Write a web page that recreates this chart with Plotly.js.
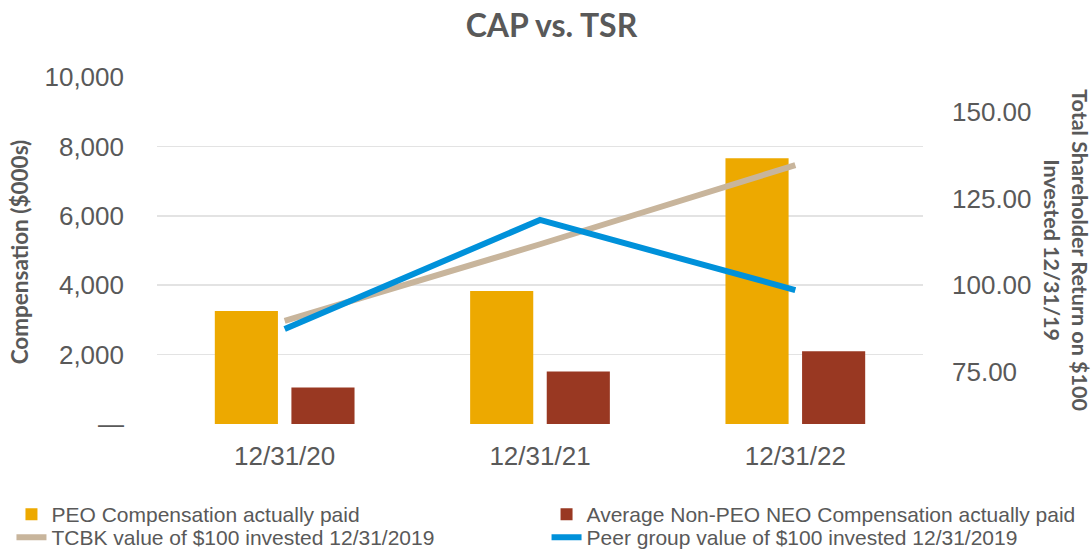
<!DOCTYPE html>
<html>
<head>
<meta charset="utf-8">
<script src="https://cdn.plot.ly/plotly-3.0.1.min.js"></script>
<style>
html,body{margin:0;padding:0;background:#fff;}
#chart{width:1092px;height:550px;}
</style>
</head>
<body>
<div id="chart"></div>
<script>
const categories = ['12/31/20', '12/31/21', '12/31/22'];
const peoCAP = [3255, 3835, 7660];
const nonPeoCAP = [1052, 1516, 2096];
const tcbkTSR = [89.7, 111.8, 134.6];
const peerTSR = [87.4, 118.8, 98.6];
const leftTickVals = [0, 2000, 4000, 6000, 8000, 10000];
const leftTickText = ['—', '2,000', '4,000', '6,000', '8,000', '10,000'];
const rightTickVals = [75, 100, 125, 150];

const grey = '#595959';
const tickFont = {family: 'Liberation Sans, Arial, sans-serif', size: 26, color: grey};
const legendFont = {family: 'Liberation Sans, Arial, sans-serif', size: 21, color: grey};

const traces = [
  {type: 'bar', name: 'PEO Compensation actually paid', x: categories, y: peoCAP,
   marker: {color: '#EDA900'}, legend: 'legend', hoverinfo: 'skip'},
  {type: 'bar', name: 'Average Non-PEO NEO Compensation actually paid', x: categories, y: nonPeoCAP,
   marker: {color: '#993822'}, legend: 'legend2', hoverinfo: 'skip'},
  {type: 'scatter', mode: 'lines', name: 'TCBK value of $100 invested 12/31/2019', x: categories, y: tcbkTSR,
   yaxis: 'y2', line: {color: '#C8B59C', width: 6}, legend: 'legend3', hoverinfo: 'skip'},
  {type: 'scatter', mode: 'lines', name: 'Peer group value of $100 invested 12/31/2019', x: categories, y: peerTSR,
   yaxis: 'y2', line: {color: '#0091DA', width: 6}, legend: 'legend4', hoverinfo: 'skip'}
];

function legendAt(x, y) {
  return {orientation: 'v', xref: 'container', yref: 'container', x: x, xanchor: 'left',
          y: y, yanchor: 'middle', font: legendFont, bgcolor: 'rgba(0,0,0,0)'};
}

const layout = {
  width: 1092, height: 550,
  margin: {l: 157, r: 169, t: 77, b: 126, autoexpand: false},
  paper_bgcolor: '#fff', plot_bgcolor: '#fff',
  title: {text: '<b>CAP vs. TSR</b>', x: 0.505, xanchor: 'center', y: 0.953, yanchor: 'middle',
          font: {family: 'Lato, sans-serif', size: 32, color: grey}},
  barmode: 'group', bargap: 0.4, bargroupgap: 0.176,
  showlegend: true,
  legend: legendAt(0.0105, 0.0645),
  legend2: legendAt(0.5005, 0.0645),
  legend3: legendAt(0.0105, 0.0225),
  legend4: legendAt(0.5005, 0.0225),
  xaxis: {type: 'category', tickfont: tickFont, showgrid: false, zeroline: false, showline: false,
          ticks: '', ticklabelstandoff: 14, fixedrange: true},
  yaxis: {range: [0, 10000], tickvals: leftTickVals, ticktext: leftTickText, tickfont: tickFont,
          gridcolor: '#E3E3E3', gridwidth: 1.5, zeroline: false, showline: false, ticks: '',
          ticklabelstandoff: 32},
  yaxis2: {range: [60, 160], overlaying: 'y', side: 'right', tickvals: rightTickVals, tickformat: '.2f',
           tickfont: tickFont, showgrid: false, zeroline: false, showline: false, ticks: '',
           ticklabelstandoff: 28},
  annotations: [
    {text: '<b>Compensation ($000s)</b>', textangle: -90,
     xref: 'paper', yref: 'paper', x: -0.180, y: 0.495, xanchor: 'center', yanchor: 'middle',
     showarrow: false, font: {family: 'Lato, sans-serif', size: 22.5, color: grey}},
    {text: '<b>Total Shareholder Return on $100<br>Invested 12/31/19</b>', textangle: 90,
     xref: 'paper', yref: 'paper', x: 1.187, y: 0.5, xanchor: 'center', yanchor: 'middle',
     showarrow: false, font: {family: 'Lato, sans-serif', size: 21.5, color: grey}}
  ]
};

Plotly.newPlot('chart', traces, layout, {staticPlot: true, displayModeBar: false});
</script>
</body>
</html>
